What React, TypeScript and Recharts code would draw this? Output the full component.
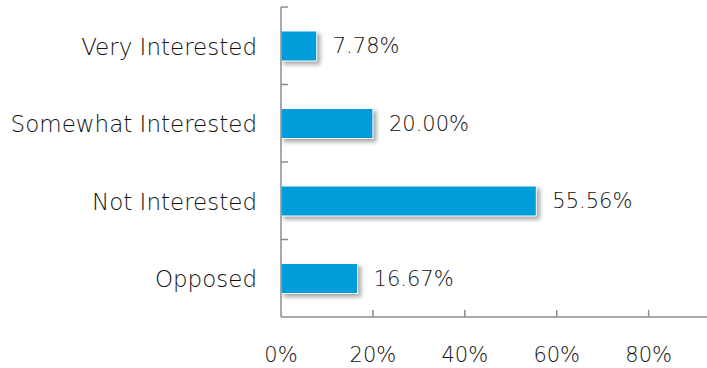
import React from 'react';
import { BarChart, Bar, XAxis, YAxis, LabelList } from 'recharts';

const categories = ['Very Interested', 'Somewhat Interested', 'Not Interested', 'Opposed'];
const shares = [7.78, 20.0, 55.56, 16.67];
const xTicks = [0, 20, 40, 60, 80];

const data = categories.map((name, i) => ({ name, value: shares[i] }));

const FONT = '"DejaVu Sans", sans-serif';
const AXIS = '#8c8c8c';
const TEXT = '#111111';
const BLUE = '#009dda';

// category labels plus the short boundary ticks pointing into the plot
function CategoryTick(props: any) {
    const { x, y, payload } = props;
    const half = payload && payload.offset ? payload.offset : 38.75;
    return (
        <g>
            <line x1={x} x2={x + 7} y1={y - half} y2={y - half} stroke={AXIS} strokeWidth={1.5} />
            <text x={x - 24} y={y} dy={9} textAnchor="end" fill={TEXT} fontSize={23} fontFamily={FONT} fontWeight={300}>
                {payload.value}
            </text>
        </g>
    );
}

// percent labels, ticks drawn upward into the plot
function PercentTick(props: any) {
    const { x, y, payload } = props;
    return (
        <g>
            {payload.value !== 0 && <line x1={x} x2={x} y1={y} y2={y - 7} stroke={AXIS} strokeWidth={1.5} />}
            <text x={x} y={y + 45} textAnchor="middle" fill={TEXT} fontSize={21} fontFamily={FONT} fontWeight={300}>
                {payload.value}%
            </text>
        </g>
    );
}

function ShadowBar(props: any) {
    const { x, y, width, height } = props;
    return (
        <rect
            x={x}
            y={y}
            width={width}
            height={height}
            fill={BLUE}
            stroke="#ffffff"
            strokeWidth={1}
            style={{ filter: 'drop-shadow(3px 3px 2px rgba(0,0,0,0.35))' }}
        />
    );
}

export default function App() {
    return (
        <div style={{ position: 'absolute', left: 0, top: 0, width: 707, height: 368, background: '#fff' }}>
            <BarChart
                width={707}
                height={368}
                data={data}
                layout="vertical"
                margin={{ top: 7, right: 0, bottom: 0, left: 0 }}
            >
                <XAxis
                    type="number"
                    domain={[0, 92.7]}
                    ticks={xTicks}
                    height={51}
                    axisLine={{ stroke: AXIS, strokeWidth: 1.5 }}
                    tickLine={false}
                    tickSize={0}
                    tickMargin={0}
                    tick={<PercentTick />}
                    interval={0}
                />
                <YAxis
                    type="category"
                    dataKey="name"
                    width={281}
                    axisLine={{ stroke: AXIS, strokeWidth: 1.5 }}
                    tickLine={false}
                    tickSize={0}
                    tickMargin={0}
                    tick={<CategoryTick />}
                    interval={0}
                />
                <Bar dataKey="value" barSize={30} shape={<ShadowBar />} isAnimationActive={false}>
                    <LabelList
                        dataKey="value"
                        position="right"
                        offset={16}
                        fill={TEXT}
                        fontSize={21}
                        fontWeight={300}
                        fontFamily={FONT}
                        formatter={(v: any) => Number(v).toFixed(2) + '%'}
                    />
                </Bar>
            </BarChart>
        </div>
    );
}
